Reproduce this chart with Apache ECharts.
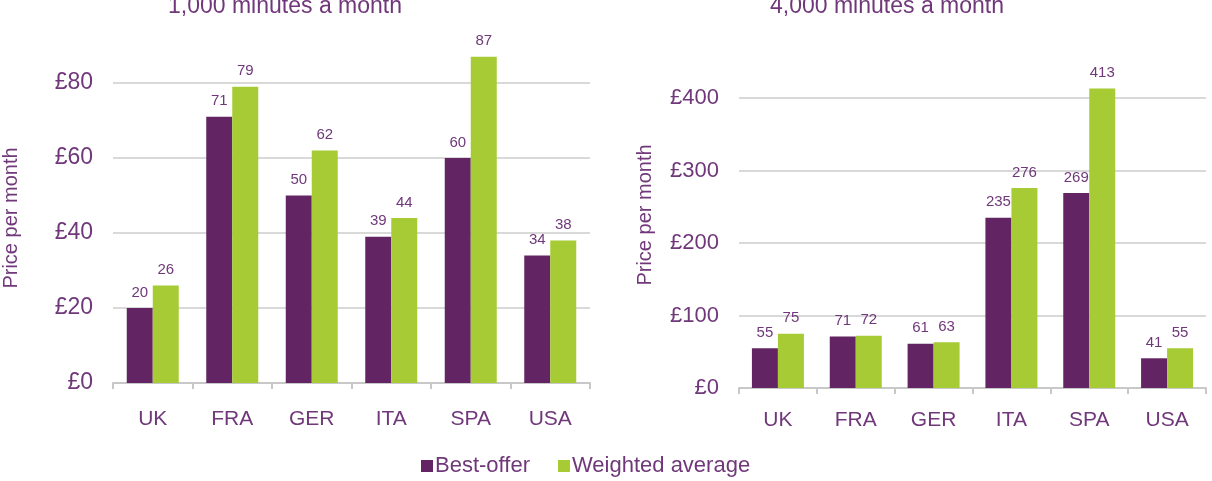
<!DOCTYPE html>
<html>
	<head>
		<meta charset="utf-8">
		<title>price per month</title>
		<script src="https://cdn.jsdelivr.net/npm/echarts@6/dist/echarts.min.js"></script>
	</head>
	<body style="margin: 0;">
		<div id="box" style="width: 1212px;height: 481px;"></div>
		<script>
			var mCharts = echarts.init(document.querySelector('#box'))

			// countries
			var countries = ['UK', 'FRA', 'GER', 'ITA', 'SPA', 'USA']
			var seriesNames = ['Best-offer', 'Weighted average']

			// 1,000 minutes a month
			var best1000 = [20, 71, 50, 39, 60, 34]
			var weighted1000 = [26, 79, 62, 44, 87, 38]

			// 4,000 minutes a month
			var best4000 = [55, 71, 61, 235, 269, 41]
			var weighted4000 = [75, 72, 63, 276, 413, 55]

			// y axis ticks
			var ticks1000 = [0, 20, 40, 60, 80]
			var ticks4000 = [0, 100, 200, 300, 400]

			var purple = '#622463'
			var green = '#a6cb35'
			var textColor = '#70387a'
			var font = 'Liberation Sans, Arial, sans-serif'

			function makeX(gridIndex, margin) {
				return {
					type: 'category',
					gridIndex: gridIndex,
					data: countries,
					axisLine: { lineStyle: { color: '#c8c8c8', width: 2 } },
					axisTick: { show: true, length: 6, lineStyle: { color: '#c8c8c8', width: 2 } },
					axisLabel: { color: textColor, fontSize: 21, fontFamily: font, margin: margin }
				}
			}

			function makeY(gridIndex, ticks, nameGap, fontSize, namePad) {
				return {
					type: 'value',
					gridIndex: gridIndex,
					min: ticks[0],
					max: ticks[ticks.length - 1],
					interval: ticks[1] - ticks[0],
					name: 'Price per month',
					nameLocation: 'middle',
					nameGap: nameGap,
					nameTextStyle: { color: textColor, fontSize: 20, fontFamily: font, padding: [0, 0, 0, namePad] },
					axisLine: { show: false },
					axisTick: { show: false },
					axisLabel: {
						color: textColor, fontSize: fontSize, fontFamily: font, margin: 20,
						formatter: function (v) { return '£' + v }
					},
					splitLine: { lineStyle: { color: '#d9d9d9', width: 2 } }
				}
			}

			function makeBar(name, data, idx, color) {
				return {
					name: name,
					type: 'bar',
					xAxisIndex: idx,
					yAxisIndex: idx,
					data: data,
					barWidth: 26,
					barGap: '0%',
					clip: false,
					itemStyle: { color: color },
					label: {
						show: true, position: 'top', distance: 8,
						color: textColor, fontSize: 15, fontFamily: font
					}
				}
			}

			var titleStyle = { color: textColor, fontSize: 23, fontWeight: 'normal', fontFamily: font }

			var option = {
				animation: false,
				title: [
					{ text: '1,000 minutes a month', left: 280, top: -10, textAlign: 'center', textStyle: titleStyle },
					{ text: '4,000 minutes a month', left: 882, top: -10, textAlign: 'center', textStyle: titleStyle }
				],
				legend: {
					data: seriesNames,
					left: 416,
					top: 450,
					itemWidth: 12,
					itemHeight: 12,
					itemGap: 28,
					icon: 'rect',
					textStyle: { color: textColor, fontSize: 22, fontFamily: font, padding: [0, 0, 0, -3] }
				},
				grid: [
					{ left: 104, right: 622, top: 83, bottom: 98 },
					{ left: 739, right: 6, top: 98, bottom: 93 }
				],
				xAxis: [makeX(0, 26), makeX(1, 22)],
				yAxis: [makeY(0, ticks1000, 92, 23, 30), makeY(1, ticks4000, 84, 22, 56)],
				series: [
					makeBar(seriesNames[0], best1000, 0, purple),
					makeBar(seriesNames[1], weighted1000, 0, green),
					makeBar(seriesNames[0], best4000, 1, purple),
					makeBar(seriesNames[1], weighted4000, 1, green)
				]
			}
			mCharts.setOption(option)
		</script>
	</body>
</html>
